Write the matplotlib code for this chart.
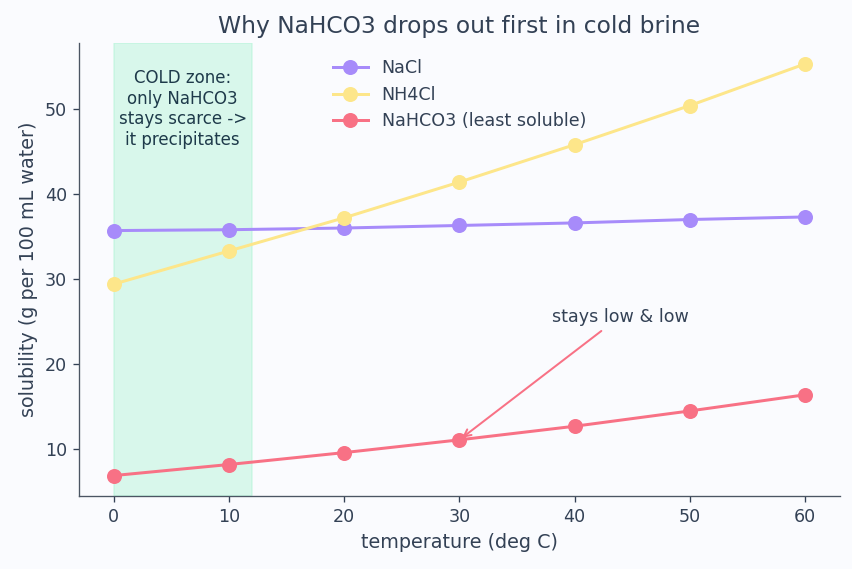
import numpy as np
import matplotlib.pyplot as plt

temps = [0, 10, 20, 30, 40, 50, 60]
nacl = [35.7, 35.8, 36.0, 36.3, 36.6, 37.0, 37.3]
nh4cl = [29.4, 33.3, 37.2, 41.4, 45.8, 50.4, 55.3]
nahco3 = [6.9, 8.2, 9.6, 11.1, 12.7, 14.5, 16.4]

txt = "#334155"
bg = "#fafbfe"

fig = plt.figure(figsize=(7.1, 569 / 120), dpi=120, facecolor=bg)
ax = fig.add_axes([0.0927, 0.128, 0.893, 0.796], facecolor=bg)

ax.axvspan(0, 12, color="#a7f3d0", alpha=0.4, zorder=0)
ax.text(6, 50, "COLD zone:\nonly NaHCO3\nstays scarce ->\nit precipitates",
        ha="center", va="center", fontsize=10, color="#1e3a4a", linespacing=1.2)

ax.plot(temps, nacl, "-o", color="#a78bfa", lw=1.8, ms=8, label="NaCl")
ax.plot(temps, nh4cl, "-o", color="#fde68a", lw=1.8, ms=8, label="NH4Cl")
ax.plot(temps, nahco3, "-o", color="#f87185", lw=1.8, ms=8, label="NaHCO3 (least soluble)")

ax.annotate("stays low & low", xy=(30, 11.1), xytext=(38, 25),
            fontsize=10.5, color=txt,
            arrowprops=dict(arrowstyle="->", color="#f87185", lw=1.2))

ax.set_title("Why NaHCO3 drops out first in cold brine", fontsize=14, color=txt)
ax.set_xlabel("temperature (deg C)", fontsize=11.5, color=txt)
ax.set_ylabel("solubility (g per 100 mL water)", fontsize=11.5, color=txt)
ax.tick_params(colors=txt, labelsize=10.5)
for s in ["top", "right"]:
    ax.spines[s].set_visible(False)
for s in ["left", "bottom"]:
    ax.spines[s].set_color("#4b5563")

ax.legend(loc="upper center", bbox_to_anchor=(0.5, 1.0), frameon=False,
          fontsize=10.5, labelcolor=txt)

fig.savefig("out.png", dpi=120, facecolor=bg)
